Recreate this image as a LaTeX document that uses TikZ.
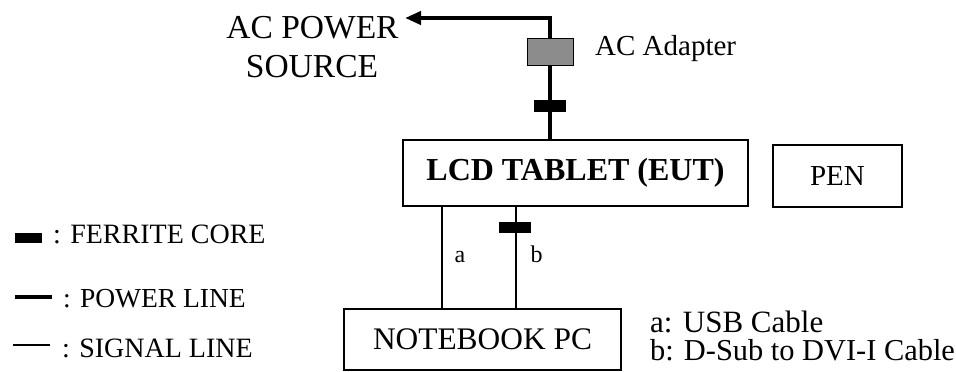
\documentclass[tikz,border=0pt]{standalone}
\usepackage{fontspec}
\setmainfont{Liberation Serif}
\usetikzlibrary{arrows.meta}
\begin{document}
\begin{tikzpicture}[x=1pt,y=-1pt,
  box/.style={draw, line width=1.1pt, inner sep=0pt, align=center},
  power/.style={line width=4pt, line join=miter},
  signal/.style={line width=1.1pt},
  ferrite/.style={fill=black, draw=none, inner sep=0pt},
  lbl/.style={inner sep=0pt, anchor=base west},
  ctr/.style={inner sep=0pt, anchor=base}
]
\useasboundingbox (0,0) rectangle (956,372);

% boxes
\node[box, minimum width=345pt, minimum height=66pt, font=\fontsize{32}{38}\selectfont\bfseries] (lcd) at (575.5,173) {LCD TABLET (EUT)};
\node[box, minimum width=129pt, minimum height=62pt, font=\fontsize{29}{34}\selectfont] (pen) at (837.5,176) {PEN};
\node[box, minimum width=277pt, minimum height=61pt, font=\fontsize{31.4}{36}\selectfont] (nb) at (482.5,339.5) {NOTEBOOK PC};

% AC power source
\node[ctr, font=\fontsize{33.5}{39}\selectfont] (acsrc1) at (312.5,38) {AC POWER};
\node[ctr, font=\fontsize{33.5}{39}\selectfont] (acsrc2) at (312,77) {SOURCE};

% adapter and power line
\node[draw, line width=1pt, fill=black!45, minimum width=46pt, minimum height=27pt, inner sep=0pt] (adp) at (550,51.5) {};
\coordinate (ptop) at (550,18);
\coordinate (acin) at (405,18);
\draw[power] (lcd.north -| adp) -- (adp.south);
\draw[power, -{Triangle[length=16pt,width=13pt]}] (adp.north) -- (ptop) -- (acin);
\node[ferrite, minimum width=32pt, minimum height=12pt] (fp) at (550,106) {};
\node[lbl, font=\fontsize{29}{34}\selectfont] (adptxt) at (595,55) {AC Adapter};

% signal lines
\coordinate (xa) at (442,0);
\coordinate (xb) at (516,0);
\draw[signal] (lcd.south -| xa) -- (nb.north -| xa);
\draw[signal] (lcd.south -| xb) -- (nb.north -| xb);
\node[ferrite, minimum width=32pt, minimum height=11pt] (fb) at (515,227.5) {};
\node[ctr, font=\fontsize{24}{28}\selectfont] (la) at (460,262) {a};
\node[ctr, font=\fontsize{24}{28}\selectfont] (lb) at (536.5,262) {b};

% cable notes
\node[lbl, font=\fontsize{31}{36}\selectfont] (ca) at (650,332) {a: USB Cable};
\node[lbl, font=\fontsize{30.4}{36}\selectfont] (cb) at (650,360) {b: D-Sub to DVI-I Cable};

% legend
\node[ferrite, minimum width=27pt, minimum height=10pt] (lgf) at (28.5,238) {};
\node[lbl, font=\fontsize{28}{33}\selectfont] (lgft) at (53,243) {: FERRITE CORE};
\coordinate (lgp1) at (15,297);
\coordinate (lgp2) at (52,297);
\draw[line width=3.5pt] (lgp1) -- (lgp2);
\node[lbl, font=\fontsize{27.5}{33}\selectfont] (lgpt) at (63,307) {: POWER LINE};
\coordinate (lgs1) at (13,345);
\coordinate (lgs2) at (50,345);
\draw[signal] (lgs1) -- (lgs2);
\node[lbl, font=\fontsize{28}{33}\selectfont] (lgst) at (62,357) {: SIGNAL LINE};
\end{tikzpicture}
\end{document}
